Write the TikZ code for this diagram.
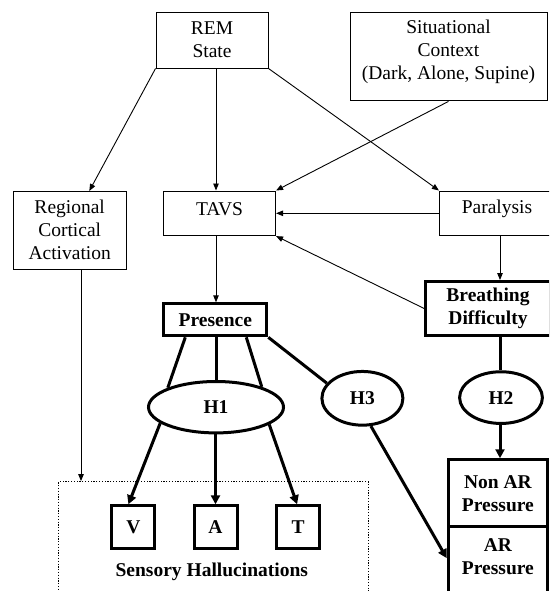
\documentclass[tikz,border=0pt]{standalone}
\usepackage{fontspec}
\setmainfont{Liberation Serif}
\usetikzlibrary{arrows.meta,calc,shapes.geometric}
\begin{document}
\begin{tikzpicture}[x=1pt,y=-1pt,
  every node/.style={font=\fontsize{19.5}{23}\selectfont, inner sep=0pt, align=center},
  thinbox/.style={draw, line width=0.9pt, rectangle},
  thickbox/.style={draw, line width=3pt, rectangle, font=\fontsize{19.5}{23}\selectfont\bfseries},
  boldtext/.style={font=\fontsize{19.5}{23}\selectfont\bfseries},
  hyp/.style={draw, ellipse, line width=3pt, font=\fontsize{19.5}{23}\selectfont\bfseries},
  thinarrow/.style={line width=0.9pt, -{Triangle[length=7pt,width=5.5pt]}},
  thinline/.style={line width=0.9pt},
  thickline/.style={line width=3pt},
  thickarrow/.style={line width=3pt, -{Triangle[length=9pt,width=9pt]}},
  dotbox/.style={draw, line width=1.2pt, dash pattern=on 1.2pt off 1.6pt, rectangle},
]
\useasboundingbox (0,0) rectangle (549,591);
\clip (0,0) rectangle (549,591);

% column coordinates
\coordinate (colM) at (216,0);
\coordinate (colR) at (500,0);
\coordinate (regin) at (89.3,191);
\coordinate (regout) at (81,0);

% top row
\node[thinbox, minimum width=112, minimum height=56] (rem) at (212,40) {REM\\State};
\node[thinbox, minimum width=197, minimum height=88.7] (sit) at (448.5,56.6) {};
\node (sittext) at (448.5,51.5) {Situational\\Context\\(Dark, Alone, Supine)};

% second row
\node[thinbox, minimum width=112.7, minimum height=78.3] (reg) at (69.7,230.2) {Regional\\Cortical\\Activation};
\node[thinbox, minimum width=112.6, minimum height=44.7] (tavs) at (219.3,213.3) {};
\node (tavstext) at (219.5,209) {TAVS};
\node[thinbox, minimum width=115.2, minimum height=44.7] (para) at (497,213.3) {};
\node (paratext) at (497,209) {Paralysis};

% third row
\node[thickbox, minimum width=103, minimum height=32] (pres) at (215.3,319.8) {Presence};
\node[thickbox, minimum width=125, minimum height=53.7] (brea) at (488,308.4) {Breathing\\Difficulty};

% hypotheses
\node[hyp, minimum width=135, minimum height=51.4] (h1) at (216,407.2) {H1};
\node[hyp, minimum width=81, minimum height=53.7] (h3) at (362.4,398.3) {H3};
\node[hyp, minimum width=82.8, minimum height=51.7] (h2) at (501,397.6) {H2};

% sensory hallucinations
\node[dotbox, minimum width=309.5, minimum height=170] (hall) at (213.5,566.7) {};
\node[thickbox, minimum width=43, minimum height=43] (v) at (133.4,527.3) {V};
\node[thickbox, minimum width=43, minimum height=43] (a) at (215.5,527.3) {A};
\node[thickbox, minimum width=43, minimum height=43] (t) at (298.1,527.3) {T};
\node[boldtext] (halltext) at (211.8,571.7) {Sensory Hallucinations};

% pressure boxes
\node[thickbox, minimum width=99.3, minimum height=66.9] (nonar) at (497.9,493.2) {Non AR\\Pressure};
\node[thickbox, minimum width=99.3, minimum height=100] (arbox) at (497.9,576.7) {};
\node[boldtext] (artext) at (497.9,557) {AR\\Pressure};

% thin connectors
\draw[thinarrow] (rem.south west) -- (regin);
\draw[thinarrow] (rem.south -| colM) -- (tavs.north -| colM);
\draw[thinarrow] (rem.south east) -- (para.north west);
\draw[thinarrow] (sit.south) -- (tavs.north east);
\draw[thinarrow] (para.west) -- (tavs.east);
\draw[thinarrow] (brea.west) -- (tavs.south east);
\draw[thinarrow] (para.south -| colR) -- (brea.north -| colR);
\draw[thinarrow] (tavs.south -| colM) -- (pres.north -| colM);
\draw[thinarrow] (reg.south -| regout) -- (hall.north -| regout);

% thick connectors
\draw[thickline] ($(pres.south)+(-30,0)$) -- (h1.158.7);
\draw[thickline] (pres.south -| colM) -- (h1.north -| colM);
\draw[thickline] ($(pres.south)+(31,0)$) -- (h1.24.2);
\draw[thickline] (pres.south east) -- (h3.157);
\draw[thickline] (brea.south -| colR) -- (h2.north -| colR);
\draw[thickarrow] (h1.196) -- ($(v.north)+(-5,0)$);
\draw[thickarrow] (h1.south -| a.north) -- (a.north);
\draw[thickarrow] (h1.342.7) -- ($(t.north)+(-1,0)$);
\draw[thickarrow] (h2.south -| colR) -- (nonar.north -| colR);
\draw[thickarrow] (h3.287) -- ($(arbox.north west)+(0,33)$);
\end{tikzpicture}
\end{document}
